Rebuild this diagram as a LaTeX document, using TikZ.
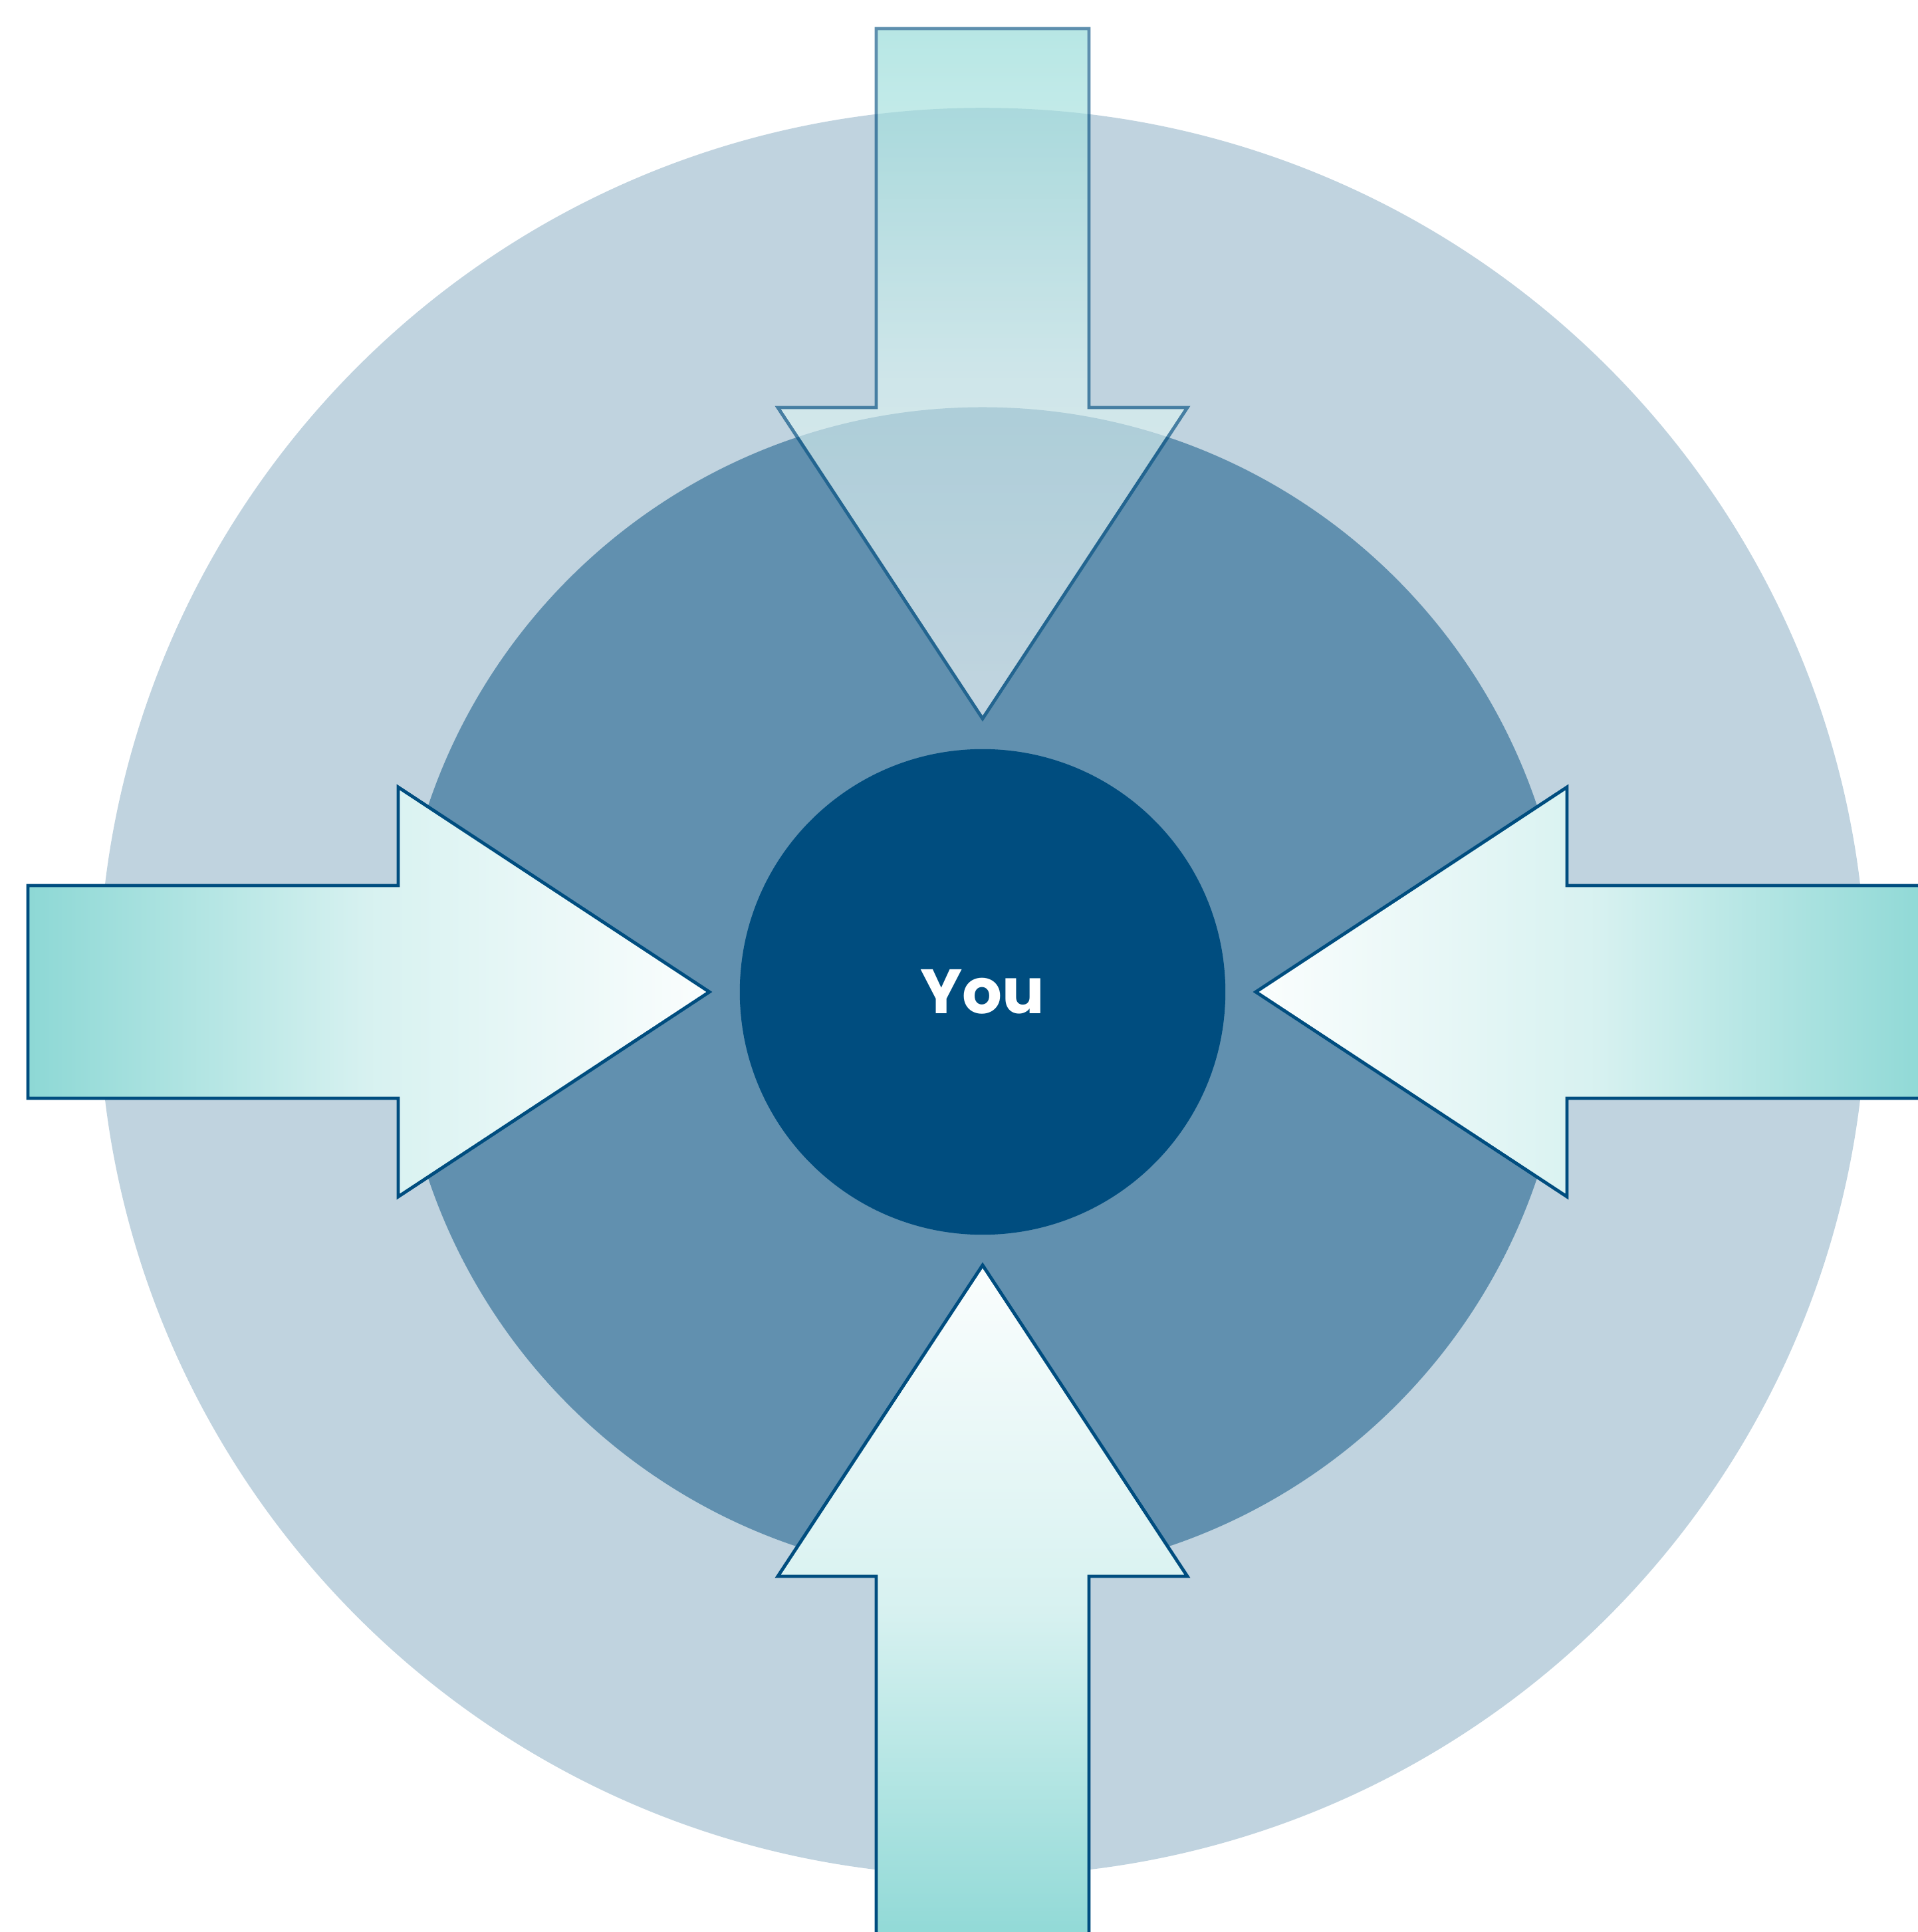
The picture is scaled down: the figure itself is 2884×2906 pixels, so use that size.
\documentclass[tikz,border=0pt]{standalone}
\usepackage{fontspec}
\newfontfamily\youfont{Poppins}
\usetikzlibrary{calc}
\usepackage{xcolor}

\definecolor{outerring}{HTML}{C0D3DF}
\definecolor{middlering}{HTML}{6190AF}
\definecolor{youblue}{HTML}{004D7F}
\definecolor{arrowteal}{HTML}{8DD8D5}

\begin{document}
\begin{tikzpicture}[
    x=0.01cm, y=0.01cm,
    ring/.style={circle, draw=none, inner sep=0pt},
    bigarrow/.style={draw=youblue, line width=1.4pt, miter limit=20},
    youtext/.style={text=white, font=\youfont\bfseries\fontsize{26.8}{32}\selectfont}
]
\useasboundingbox (-1478,-1414) rectangle (1406,1492);

% Rings
\node[ring, fill=outerring, minimum size=26.58cm] (outer) at (0,0) {};
\node[ring, fill=middlering, minimum size=17.58cm] (middle) at (0,0) {};

% Arrows - left, right, bottom
\draw[bigarrow, left color=arrowteal, right color=arrowteal!4!white, middle color=arrowteal!35!white]
    (-1436,160) -- (-879,160) -- (-879,308) -- (-411,0) -- (-879,-308) -- (-879,-160) -- (-1436,-160) -- cycle;
\draw[bigarrow, right color=arrowteal, left color=arrowteal!4!white, middle color=arrowteal!35!white]
    (1436,160) -- (879,160) -- (879,308) -- (411,0) -- (879,-308) -- (879,-160) -- (1436,-160) -- cycle;
\draw[bigarrow, bottom color=arrowteal, top color=arrowteal!4!white, middle color=arrowteal!35!white]
    (-160,-1449) -- (-160,-879) -- (-308,-879) -- (0,-411) -- (308,-879) -- (160,-879) -- (160,-1449) -- cycle;

% Arrow - top (see-through)
\begin{scope}[transparency group, opacity=0.63]
\draw[bigarrow, top color=arrowteal, bottom color=arrowteal!4!white, middle color=arrowteal!35!white]
    (-160,1449) -- (-160,879) -- (-308,879) -- (0,411) -- (308,879) -- (160,879) -- (160,1449) -- cycle;
\end{scope}

% Centre
\node[ring, fill=youblue, minimum size=7.3cm, youtext] (you) at (0,0) {You};

\end{tikzpicture}
\end{document}
